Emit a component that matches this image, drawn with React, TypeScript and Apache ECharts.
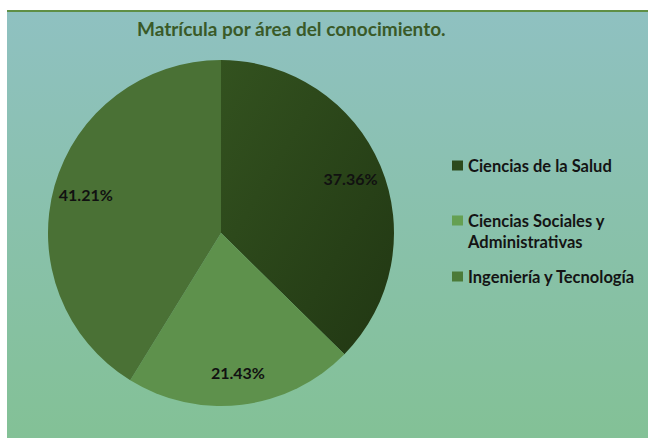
import React, { useEffect, useRef } from "react";
import * as echarts from "echarts";

const categories = ["Ciencias de la Salud", "Ciencias Sociales y Administrativas", "Ingeniería y Tecnología"];
const values = [37.36, 21.43, 41.21];
const titleText = "Matrícula por área del conocimiento.";

export default function App() {
  const ref = useRef<HTMLDivElement>(null);
  useEffect(() => {
    if (!ref.current) return;
    const chart = echarts.init(ref.current, undefined, { renderer: "svg" });
    const font = "Lato, 'Open Sans', sans-serif";
    const darkGrad = new echarts.graphic.LinearGradient(0, 0, 1, 1, [
      { offset: 0, color: "#33521f" },
      { offset: 1, color: "#213713" },
    ]);
    const sliceColors: any[] = [darkGrad, "#5e914c", "#4a7135"];
    const legendColors = ["#2c4a1c", "#65a052", "#4b7a38"];
    const center = [221, 233];
    const legendTops = [155, 210, 266];
    const legendIcons = [
      "rect",
      "path://M0,0L11,0L11,10L0,10Z M0,31L0.01,31L0.01,31.01L0,31.01Z",
      "rect",
    ];
    chart.setOption({
      animation: false,
      graphic: [
        {
          type: "rect",
          shape: { x: 7, y: 10, width: 641, height: 428 },
          style: {
            fill: new echarts.graphic.LinearGradient(0, 0, 0, 1, [
              { offset: 0, color: "#8fc1c1" },
              { offset: 1, color: "#83c196" },
            ]),
          },
          z: -10,
        },
        {
          type: "rect",
          shape: { x: 7, y: 10, width: 641, height: 2 },
          style: { fill: "#5f8f45" },
          z: -9,
        },
      ],
      title: {
        text: titleText,
        left: 137,
        top: 19,
        padding: 0,
        textStyle: { fontFamily: font, fontWeight: "bold", fontSize: 19, color: "#3a5a28" },
      },
      legend: categories.map((c, i) => ({
        data: [{ name: c, itemStyle: { color: legendColors[i] }, icon: legendIcons[i] }],
        left: 452,
        top: legendTops[i],
        padding: 0,
        orient: "vertical",
        itemWidth: 11,
        itemHeight: i === 1 ? 31 : 10,
        selectedMode: false,
        formatter: (n: string) => (n === categories[1] ? "Ciencias Sociales y\nAdministrativas" : n),
        textStyle: { fontFamily: font, fontWeight: "bold", fontSize: 16.5, color: "#141414", lineHeight: 21 },
      })),
      series: [
        {
          type: "pie",
          center,
          radius: [0, 173],
          startAngle: 90,
          clockwise: true,
          silent: true,
          label: { show: false },
          labelLine: { show: false },
          itemStyle: { borderWidth: 0 },
          data: categories.map((c, i) => ({ name: c, value: values[i], itemStyle: { color: sliceColors[i] } })),
        },
        {
          type: "pie",
          center,
          radius: [102, 173],
          startAngle: 90,
          clockwise: true,
          silent: true,
          itemStyle: { color: "rgba(0,0,0,0)", borderWidth: 0 },
          label: {
            show: true,
            position: "inside",
            formatter: (p: any) => p.value.toFixed(2) + "%",
            fontFamily: font,
            fontWeight: "bold",
            fontSize: 16,
            color: "#111111",
          },
          labelLine: { show: false },
          data: categories.map((c, i) => ({ name: c, value: values[i] })),
        },
      ],
    });
    return () => chart.dispose();
  }, []);
  return <div ref={ref} style={{ position: "absolute", left: 0, top: 0, width: 648, height: 438 }} />;
}
